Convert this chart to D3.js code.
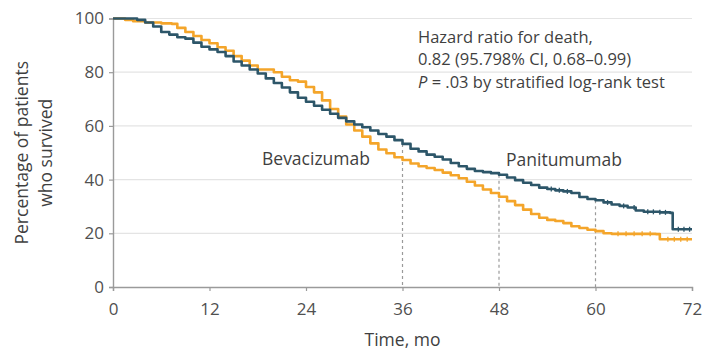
<!DOCTYPE html>
<html>
<head>
<meta charset="utf-8">
<script src="https://cdn.jsdelivr.net/npm/d3@7"></script>
<style>
  body { margin: 0; background: #fff; }
  text { font-family: "Open Sans", sans-serif; }
</style>
</head>
<body>
<svg id="chart" width="704" height="352"></svg>
<script>
// Kaplan-Meier overall survival, by treatment arm (months, % surviving)
const panitumumabMonths = [0, 2, 3, 4, 5, 6, 7, 8, 9, 10, 11, 12, 13, 14, 15, 16, 17, 18, 19, 20, 21, 22, 23, 24, 25, 26, 27, 28, 29, 30, 31, 32, 33, 34, 35, 36, 37, 38, 39, 40, 41, 42, 43, 44, 45, 46, 47, 48, 49, 50, 51, 52, 53, 54, 55, 56, 57, 58, 59, 60, 61, 62, 63, 64, 65, 66, 68, 69.3, 69.6, 72];
const panitumumabSurvival = [100, 100, 99.5, 98.5, 97, 95, 94, 93, 92.5, 91, 89.5, 88.5, 87.5, 86, 84, 82.5, 81, 79.5, 77.7, 76, 74.3, 72.5, 70.5, 69, 67.5, 66, 64.5, 63, 61.7, 60.5, 59.5, 58.3, 57, 56, 54.7, 53.3, 51.5, 50.5, 49.3, 48.5, 47.5, 46.2, 45, 44, 43.2, 42.8, 42.4, 41.8, 40.8, 39.8, 38.8, 38, 37, 36.5, 36, 35.6, 35, 33.5, 32.8, 32.3, 31.5, 30.7, 30.2, 29.6, 28.5, 28, 27.8, 27.6, 21.5, 21.5];

const bevacizumabMonths = [0, 1.5, 2.5, 4, 6, 7.3, 8, 9, 10, 11, 12, 13, 14, 15, 16, 17, 18, 19, 20, 21, 22, 23, 24, 25, 26, 27, 28, 29, 30, 31, 32, 33, 34, 35, 36, 37, 38, 39, 40, 41, 42, 43, 44, 45, 46, 47, 48, 49, 50, 51, 52, 53, 54, 55, 56, 57, 58, 59, 60, 61, 62, 67.5, 68, 72];
const bevacizumabSurvival = [100, 99.5, 99, 98.5, 98.2, 98, 96.5, 95, 93.5, 92, 90.8, 89.3, 88, 86, 84.3, 82.5, 81, 81, 80, 78.3, 77, 76.5, 74.5, 72.5, 69.5, 66.3, 63.5, 60.5, 58.3, 56, 53.5, 51.2, 49.8, 48.3, 47.3, 46, 45, 44.3, 43.6, 42.6, 41.6, 40.5, 39.2, 37.8, 36.3, 35, 33.6, 32, 30.5, 28.8, 27.2, 25.8, 25, 24.6, 23.8, 22.6, 22, 21.3, 20.8, 20, 19.8, 19.7, 17.8, 17.8];

// Censoring times shown as small tick marks on the tail of each curve
const panitumumabCensored = [54.5, 55.5, 56.5, 61.5, 63.5, 64.8, 66.5, 67.2, 68, 68.7, 70.3, 71, 71.7];
const bevacizumabCensored = [62.8, 63.8, 64.8, 65.8, 66.8, 69, 69.8, 70.6, 71.4];

const xTicks = [0, 12, 24, 36, 48, 60, 72];
const yTicks = [0, 20, 40, 60, 80, 100];
const landmarkMonths = [36, 48, 60];

const armNames = ["Panitumumab", "Bevacizumab"];
const statLines = ["Hazard ratio for death,", "0.82 (95.798% CI, 0.68\u20130.99)"];

const colors = { pan: "#2d5669", bev: "#f4a52a" };
const textColor = "#3f3f3f";
const fontSize = "17.5px";

const W = 704, H = 352;
const margin = { top: 18.5, right: 12, bottom: 65, left: 113 };

const svg = d3.select("#chart");
const x = d3.scaleLinear().domain([0, 72]).range([margin.left, W - margin.right]);
const y = d3.scaleLinear().domain([0, 100]).range([H - margin.bottom, margin.top]);

// horizontal gridlines
svg.append("g")
  .selectAll("line")
  .data(yTicks.filter(d => d > 0))
  .join("line")
  .attr("x1", x(0)).attr("x2", x(72))
  .attr("y1", d => y(d)).attr("y2", d => y(d))
  .attr("stroke", "#e4e4e4").attr("stroke-width", 1.2);

// step lookup of a survival curve at time t
function survivalAt(months, surv, t) {
  let v = surv[0];
  for (let i = 0; i < months.length; i++) { if (months[i] <= t) v = surv[i]; }
  return v;
}

// landmark dashed lines from the upper curve down to the axis
svg.append("g")
  .selectAll("line")
  .data(landmarkMonths)
  .join("line")
  .attr("x1", d => x(d)).attr("x2", d => x(d))
  .attr("y1", d => y(survivalAt(panitumumabMonths, panitumumabSurvival, d)))
  .attr("y2", y(0))
  .attr("stroke", "#9a9a9a").attr("stroke-width", 1.2)
  .attr("stroke-dasharray", "3,3");

// axes
const xAxis = svg.append("g")
  .attr("transform", `translate(0,${y(0)})`)
  .call(d3.axisBottom(x).tickValues(xTicks).tickSize(4).tickPadding(5));
const yAxis = svg.append("g")
  .attr("transform", `translate(${x(0)},0)`)
  .call(d3.axisLeft(y).tickValues(yTicks).tickSize(4).tickPadding(5));
[xAxis, yAxis].forEach(g => {
  g.select(".domain").attr("stroke", "#9a9a9a").attr("stroke-width", 1.4);
  g.selectAll(".tick line").attr("stroke", "#9a9a9a").attr("stroke-width", 1.2);
  g.selectAll(".tick text")
    .attr("fill", "#505050")
    .style("font-family", "\"Open Sans\", sans-serif")
    .style("font-size", "17px");
});
xAxis.selectAll(".tick text").attr("y", 27.5).attr("dy", null);

// survival curves
const line = d3.line().x(d => x(d[0])).y(d => y(d[1])).curve(d3.curveStepAfter);
const series = [
  { months: panitumumabMonths, surv: panitumumabSurvival, cens: panitumumabCensored, color: colors.pan },
  { months: bevacizumabMonths, surv: bevacizumabSurvival, cens: bevacizumabCensored, color: colors.bev }
];
// draw orange first, then blue on top
series.slice().reverse().forEach(s => {
  svg.append("path")
    .datum(d3.zip(s.months, s.surv))
    .attr("d", line)
    .attr("fill", "none")
    .attr("stroke", s.color)
    .attr("stroke-width", 2.6)
    .attr("stroke-linejoin", "round");
  svg.append("g")
    .selectAll("line")
    .data(s.cens)
    .join("line")
    .attr("x1", d => x(d)).attr("x2", d => x(d))
    .attr("y1", d => y(survivalAt(s.months, s.surv, d)) - 2.5)
    .attr("y2", d => y(survivalAt(s.months, s.surv, d)) + 2.5)
    .attr("stroke", s.color).attr("stroke-width", 1.3);
});

// arm labels
const labelStyle = sel => sel.attr("fill", textColor).style("font-size", fontSize);
svg.append("text").attr("x", 262).attr("y", 165).text(armNames[1]).call(labelStyle);
svg.append("text").attr("x", 506).attr("y", 166).text(armNames[0]).call(labelStyle);

// hazard ratio statement
const stat = svg.append("g").attr("fill", textColor).style("font-size", "16.5px");
stat.append("text").attr("x", 418).attr("y", 42.5).text(statLines[0]);
stat.append("text").attr("x", 418).attr("y", 65).text(statLines[1]);
const p = stat.append("text").attr("x", 418).attr("y", 87.5);
p.append("tspan").attr("font-style", "italic").text("P");
p.append("tspan").text(" = .03 by stratified log-rank test");

// axis titles
svg.append("text")
  .attr("x", x(36)).attr("y", 345.5)
  .attr("text-anchor", "middle")
  .attr("fill", textColor).style("font-size", fontSize)
  .text("Time, mo");

const yTitle = svg.append("text")
  .attr("transform", `translate(0,${(y(0) + y(100)) / 2}) rotate(-90)`)
  .attr("text-anchor", "middle")
  .attr("fill", textColor).style("font-size", fontSize);
yTitle.append("tspan").attr("x", 0).attr("y", 28).text("Percentage of patients");
yTitle.append("tspan").attr("x", 0).attr("y", 52).text("who survived");
</script>
</body>
</html>
